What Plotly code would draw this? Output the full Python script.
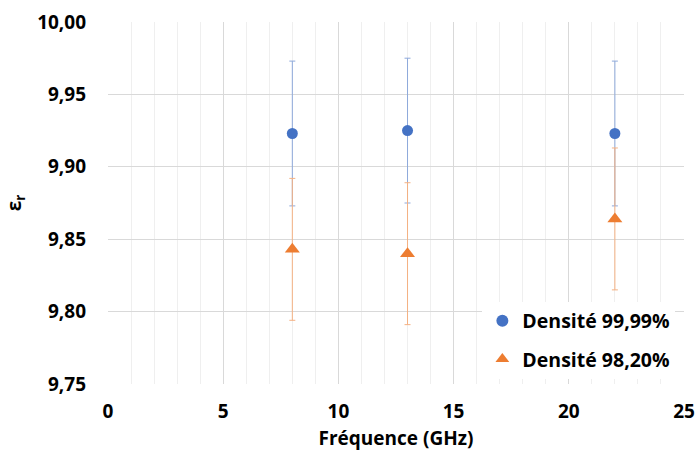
import plotly.graph_objects as go

freq = [8, 13, 22]
eps_9999 = [9.923, 9.925, 9.923]
err_9999 = [0.05, 0.05, 0.05]
eps_9820 = [9.843, 9.840, 9.864]
err_9820 = [0.049, 0.049, 0.049]

x_ticks = [0, 5, 10, 15, 20, 25]
y_ticks = [9.75, 9.80, 9.85, 9.90, 9.95, 10.00]

font_family = "Open Sans"

fig = go.Figure()
fig.add_trace(go.Scatter(
    x=freq, y=eps_9999, mode="markers", name="Densité 99,99%",
    legendgroup="a",
    marker=dict(symbol="circle", size=11, color="#4472C4"),
    error_y=dict(type="data", array=err_9999, visible=True,
                 color="#8EA9DB", thickness=1, width=3),
))
fig.add_trace(go.Scatter(
    x=freq, y=eps_9820, mode="markers", name="Densité 98,20%",
    legendgroup="b",
    marker=dict(symbol="triangle-up", size=13, color="#ED7D31"),
    error_y=dict(type="data", array=err_9820, visible=True,
                 color="#F4B183", thickness=1, width=3),
))

fig.update_layout(
    width=697, height=457,
    margin=dict(l=108, r=13, t=22, b=73, autoexpand=False),
    paper_bgcolor="white", plot_bgcolor="white",
    separators=", ",
    font=dict(family=font_family, color="#000000", size=18),
    legend=dict(x=0.985, y=0.015, xanchor="right", yanchor="bottom",
                bgcolor="white", font=dict(size=19.5, family=font_family, weight="bold"),
                itemsizing="constant", traceorder="grouped", tracegroupgap=10),
    showlegend=True,
)
fig.update_xaxes(
    range=[0, 25], tickvals=x_ticks, ticktext=[str(v) for v in x_ticks],
    automargin=False,
    showgrid=True, gridcolor="#D9D9D9", gridwidth=1,
    minor=dict(dtick=1, showgrid=True, gridcolor="#EFEFEF", gridwidth=1),
    zeroline=False, showline=False, ticks="",
    tickfont=dict(size=19, family=font_family, weight="bold"),
    ticklabelstandoff=14,
    title=dict(text="Fréquence (GHz)", font=dict(size=19, family=font_family, weight="bold"), standoff=8),
)
fig.update_yaxes(
    range=[9.75, 10.00], tickvals=y_ticks, tickformat=".2f",
    automargin=False,
    showgrid=True, gridcolor="#D9D9D9", gridwidth=1,
    zeroline=False, showline=False, ticks="",
    tickfont=dict(size=19, family=font_family, weight="bold"),
    ticklabelstandoff=21,
    title=dict(text="ε<sub>r</sub>", font=dict(size=19, family=font_family, weight="bold"), standoff=10),
)

fig.write_html("out.html", config={"displayModeBar": False},
               post_script="document.body.style.margin='0px';")
